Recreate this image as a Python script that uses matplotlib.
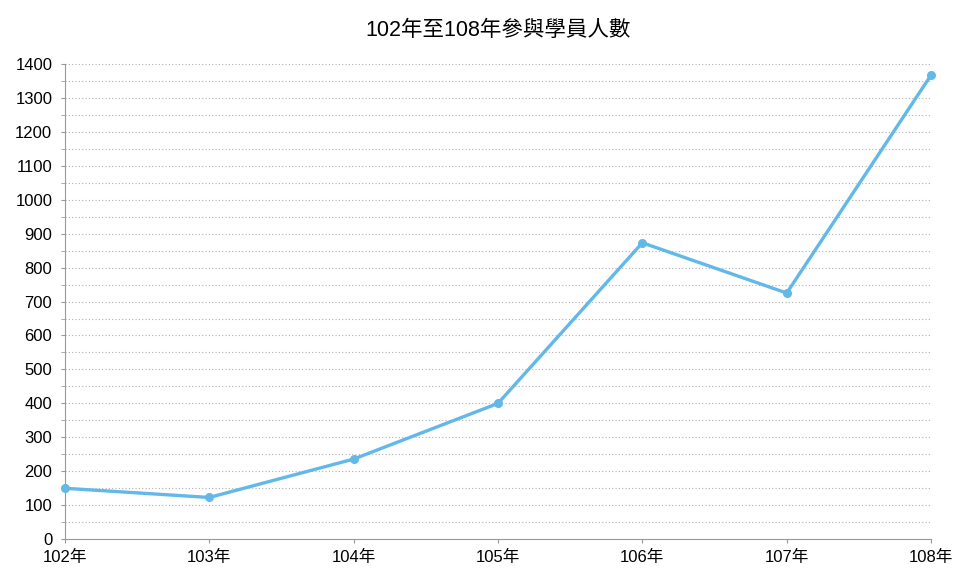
import matplotlib.pyplot as plt
from matplotlib.ticker import MultipleLocator

plt.rcParams['font.family'] = ['Liberation Sans', 'Noto Sans CJK TC', 'DejaVu Sans']

years = ['102年', '103年', '104年', '105年', '106年', '107年', '108年']
students = [150, 123, 236, 400, 873, 725, 1367]

fig = plt.figure(figsize=(9.54, 5.7), dpi=100)
ax = fig.add_axes([0.068, 0.054, 0.908, 0.834])

x = list(range(len(years)))
ax.plot(x, students, color='#62b8e8', lw=2.4, marker='o', ms=5.5, zorder=3, clip_on=False)

ax.set_xlim(0, len(years) - 1)
ax.set_ylim(0, 1400)
ax.set_xticks(x)
ax.set_xticklabels(years)
ax.yaxis.set_major_locator(MultipleLocator(100))
ax.yaxis.set_minor_locator(MultipleLocator(50))
ax.grid(axis='y', which='both', color='#b0b0b0', ls=(0, (1, 2)), lw=0.8)

for s in ['top', 'right']:
    ax.spines[s].set_visible(False)
for s in ['left', 'bottom']:
    ax.spines[s].set_color('#999999')
ax.tick_params(axis='both', which='both', color='#999999', length=3, labelsize=12)
ax.tick_params(axis='y', pad=6)
ax.tick_params(axis='x', pad=5)

ax.set_title('102年至108年參與學員人數', fontsize=15.5, pad=20)

fig.savefig('out.png')
